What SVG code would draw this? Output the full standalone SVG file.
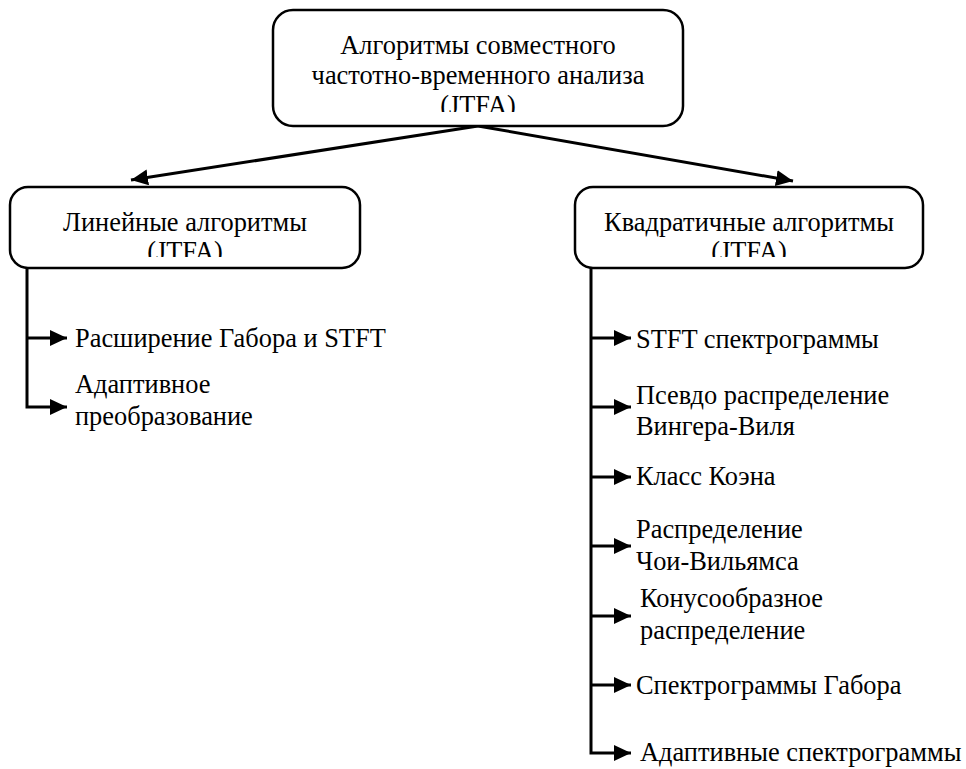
<svg xmlns="http://www.w3.org/2000/svg" width="966" height="769" viewBox="0 0 966 769">
<style>
.box{fill:#fff;stroke:#000;stroke-width:2.5}
text{font-family:'Liberation Serif','Times New Roman','DejaVu Serif',serif;font-size:26.4px;fill:#000}
.c{text-anchor:middle}
.ln{fill:none;stroke:#000;stroke-width:3}
</style>
<defs>
<marker id="ah" markerUnits="userSpaceOnUse" markerWidth="20" markerHeight="18" refX="17" refY="8" orient="auto">
<path d="M0,0 L17,8 L0,16 z" fill="#000"/>
</marker>
<clipPath id="cTop"><rect x="273" y="10" width="410" height="102"/></clipPath>
<clipPath id="cL"><rect x="10" y="187" width="350" height="70"/></clipPath>
<clipPath id="cR"><rect x="575" y="187" width="348" height="70"/></clipPath>
</defs>
<rect width="966" height="769" fill="#fff"/>
<g id="connectors">
<line class="ln" x1="478" y1="126" x2="131" y2="180" marker-end="url(#ah)"/>
<line class="ln" x1="478" y1="126" x2="793" y2="181" marker-end="url(#ah)"/>
<polyline class="ln" points="27,268 27,407 67,407" marker-end="url(#ah)"/>
<line class="ln" x1="27" y1="338" x2="67" y2="338" marker-end="url(#ah)"/>
<polyline class="ln" points="591,268 591,753 631,753" marker-end="url(#ah)"/>
<line class="ln" x1="591" y1="338" x2="631" y2="338" marker-end="url(#ah)"/>
<line class="ln" x1="591" y1="407" x2="631" y2="407" marker-end="url(#ah)"/>
<line class="ln" x1="591" y1="477" x2="631" y2="477" marker-end="url(#ah)"/>
<line class="ln" x1="591" y1="546" x2="631" y2="546" marker-end="url(#ah)"/>
<line class="ln" x1="591" y1="616" x2="631" y2="616" marker-end="url(#ah)"/>
<line class="ln" x1="591" y1="685" x2="631" y2="685" marker-end="url(#ah)"/>
</g>
<g id="root">
<rect class="box" x="273" y="10" width="410" height="116" rx="20"/>
<g clip-path="url(#cTop)">
<text class="c" x="478" y="54">Алгоритмы совместного</text>
<text class="c" x="478" y="84">частотно-временного анализа</text>
<text class="c" x="478" y="114">(JTFA)</text>
</g>
</g>
<g id="linear">
<rect class="box" x="10" y="187" width="350" height="81" rx="18"/>
<g clip-path="url(#cL)">
<text class="c" x="185" y="231">Линейные алгоритмы</text>
<text class="c" x="185" y="260">(JTFA)</text>
</g>
</g>
<g id="quadratic">
<rect class="box" x="575" y="187" width="348" height="81" rx="18"/>
<g clip-path="url(#cR)">
<text class="c" x="749" y="231">Квадратичные алгоритмы</text>
<text class="c" x="749" y="260">(JTFA)</text>
</g>
</g>
<g id="gabor-stft"><text x="75" y="347">Расширение Габора и STFT</text></g>
<g id="adaptive-transform"><text x="75" y="393">Адаптивное</text><text x="75" y="425">преобразование</text></g>
<g id="stft-spectrogram"><text x="636" y="348">STFT спектрограммы</text></g>
<g id="pseudo-wigner"><text x="636" y="404">Псевдо распределение</text><text x="636" y="435">Вингера-Виля</text></g>
<g id="cohen"><text x="636" y="485">Класс Коэна</text></g>
<g id="choi-williams"><text x="636" y="538">Распределение</text><text x="636" y="570">Чои-Вильямса</text></g>
<g id="cone"><text x="640" y="607">Конусообразное</text><text x="640" y="639">распределение</text></g>
<g id="gabor-spectrogram"><text x="636" y="694">Спектрограммы Габора</text></g>
<g id="adaptive-spectrogram"><text x="640" y="761">Адаптивные спектрограммы</text></g>
</svg>
